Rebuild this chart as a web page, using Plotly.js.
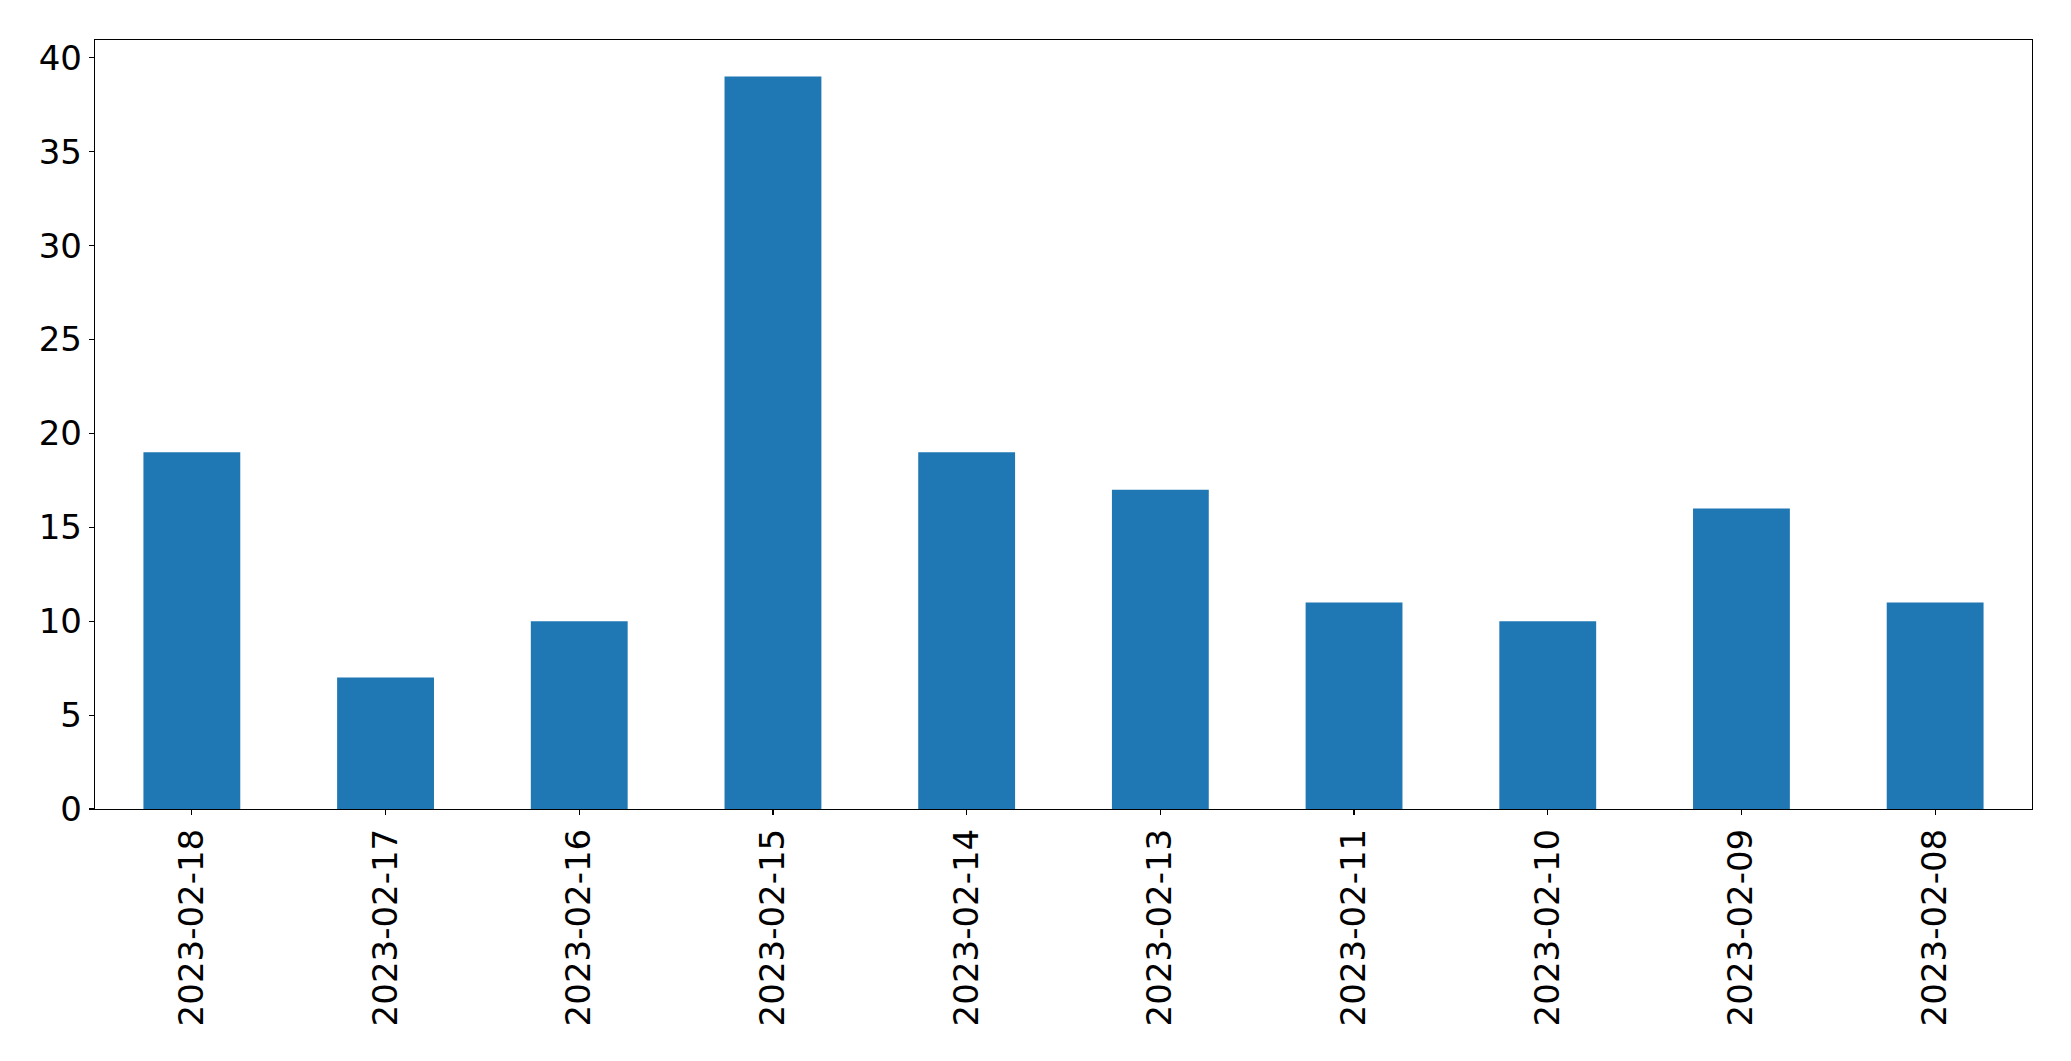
<!DOCTYPE html>
<html>
<head>
<meta charset="utf-8">
<script src="https://cdn.plot.ly/plotly-3.0.1.min.js"></script>
<style>html,body{margin:0;padding:0;background:#fff;}#chart{width:2071px;height:1061px;}</style>
</head>
<body>
<div id="chart"></div>
<script>
const dates = ["2023-02-18","2023-02-17","2023-02-16","2023-02-15","2023-02-14","2023-02-13","2023-02-11","2023-02-10","2023-02-09","2023-02-08"];
const counts = [19, 7, 10, 39, 19, 17, 11, 10, 16, 11];
const yTicks = [0, 5, 10, 15, 20, 25, 30, 35, 40];

const trace = {
  type: "bar",
  x: dates,
  y: counts,
  marker: {color: "#1f77b4", line: {width: 0}},
  hoverinfo: "x+y"
};

const font = {family: "DejaVu Sans, sans-serif", size: 34, color: "#000"};

const layout = {
  width: 2071,
  height: 1061,
  paper_bgcolor: "#fff",
  plot_bgcolor: "#fff",
  margin: {l: 95, r: 39, t: 40, b: 252, pad: 0},
  bargap: 0.5,
  showlegend: false,
  font: font,
  xaxis: {
    type: "category",
    range: [-0.5, dates.length - 0.5],
    showline: true, mirror: true, linecolor: "#000", linewidth: 1.2,
    ticks: "outside", ticklen: 5, tickwidth: 1.2, tickcolor: "#000",
    tickangle: -90,
    tickfont: font,
    showgrid: false, zeroline: false,
    automargin: false
  },
  yaxis: {
    range: [0, 40.95],
    tickvals: yTicks,
    ticktext: yTicks.map(String),
    showline: true, mirror: true, linecolor: "#000", linewidth: 1.2,
    ticks: "outside", ticklen: 5, tickwidth: 1.2, tickcolor: "#000",
    tickfont: font,
    showgrid: false, zeroline: false,
    automargin: false
  }
};

Plotly.newPlot("chart", [trace], layout, {displayModeBar: false, staticPlot: true});
</script>
</body>
</html>
